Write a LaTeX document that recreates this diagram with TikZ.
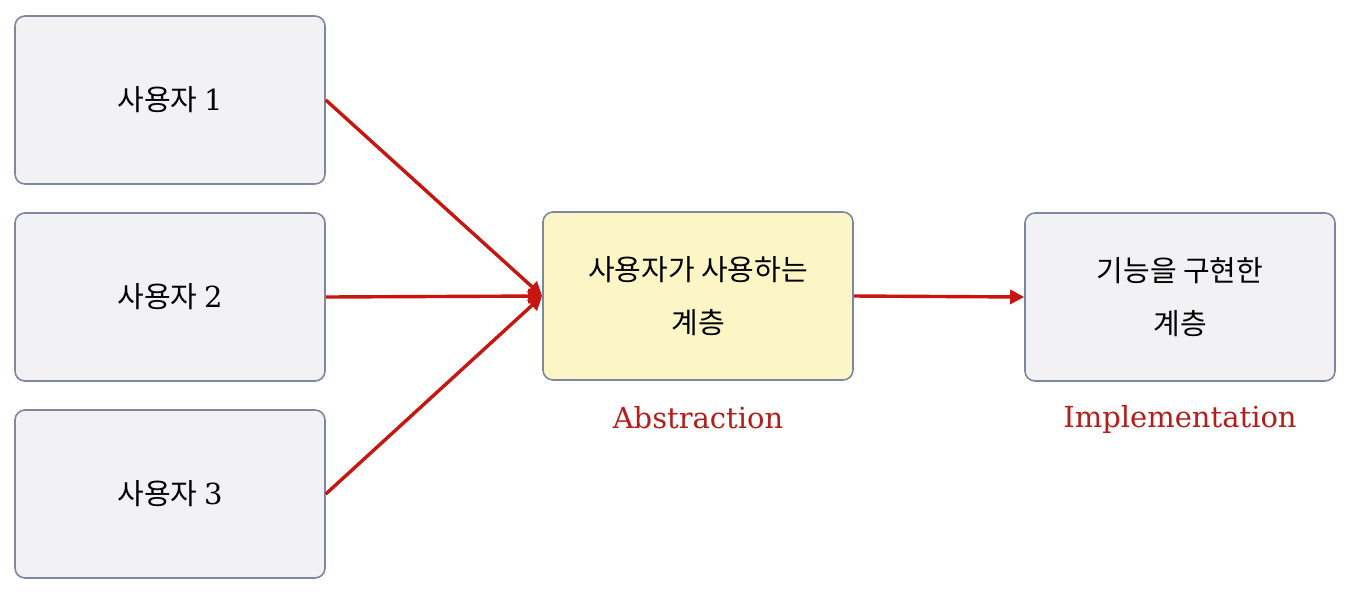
\documentclass[tikz,border=0pt]{standalone}
\usepackage{fontspec}
\usepackage{xcolor}
\setmainfont{DejaVu Serif}
\newfontfamily\kfont{Noto Sans CJK KR}
\usetikzlibrary{positioning,arrows.meta}

\definecolor{boxgray}{HTML}{F2F2F4}
\definecolor{boxline}{HTML}{7D88A0}
\definecolor{absyellow}{HTML}{FCF6C6}
\definecolor{linkred}{HTML}{C8150F}
\definecolor{labelred}{HTML}{B31E1A}

\tikzset{
    layer/.style={draw=boxline,line width=0.8pt,rounded corners=5pt,fill=boxgray,
        minimum width=155pt,minimum height=84pt,align=center,
        font=\kfont\fontsize{14.5}{26.5}\selectfont},
    caption/.style={text=labelred,font=\fontsize{14.5}{17}\selectfont},
    link/.style={-{Triangle[length=7pt,width=7pt]},draw=linkred,line width=1.7pt}
}

\begin{document}
\begin{tikzpicture}[x=0.5pt,y=-0.5pt,node distance=98.5pt,on grid]
                \useasboundingbox (0,0) rectangle (1350,591);
                \node[layer] (u2) at (170,297) {사용자 {\rmfamily 2}};
                \node[layer,above=of u2] (u1) {사용자 {\rmfamily 1}};
                \node[layer,below=of u2] (u3) {사용자 {\rmfamily 3}};
                \node[layer,fill=absyellow] (abs) at (698,296) {사용자가 사용하는\\계층};
                \node[layer] (impl) at (1180,297) {기능을 구현한\\계층};
                \node[caption,below=61pt of abs] (abslbl) {Abstraction};
                \node[caption,below=61pt of impl] (impllbl) {Implementation};
                \path
                    (u1.east) edge[link] (abs.west)
                    (u2.east) edge[link] (abs.west)
                    (u3.east) edge[link] (abs.west)
                    (abs.east) edge[link] (impl.west);
            \end{tikzpicture}
\end{document}
